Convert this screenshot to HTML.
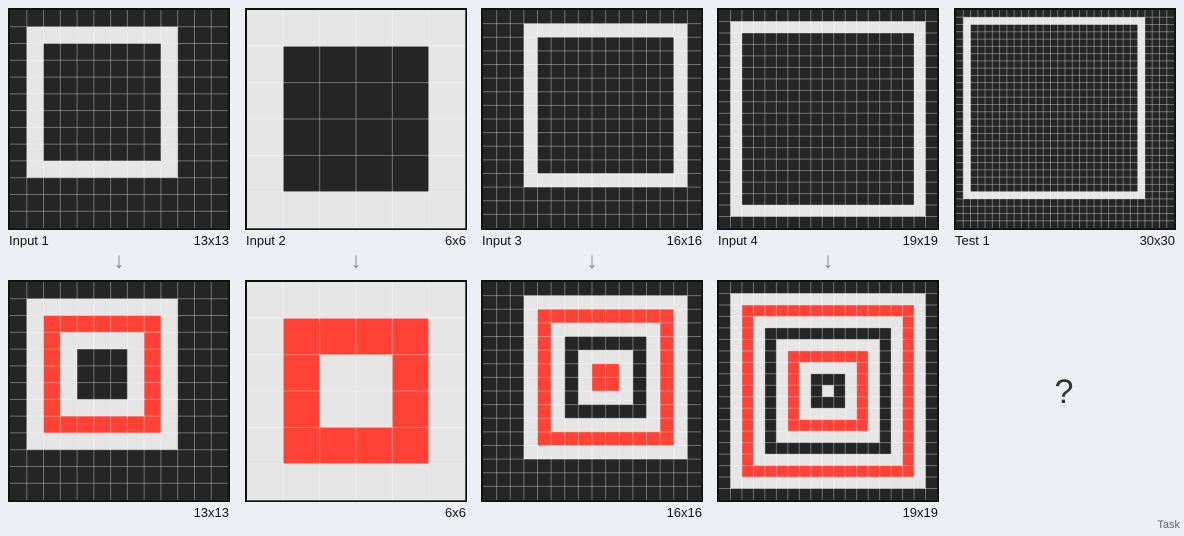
<!DOCTYPE html>
<html><head><meta charset="utf-8">
<style>
html,body{margin:0;padding:0;background:#eeeef5;width:1184px;height:536px;overflow:hidden;font-family:"Liberation Sans",sans-serif;}
svg{position:absolute;left:0;top:0}
</style></head><body>
<svg id="s" width="1184" height="536"></svg>
<script>
// grid specs: size, bg, square [r0,c0,r1,c1], ring color sequence by depth
const W='#e6e6e6', B='#252525', R='#ff4136';
const gridSizes=[13,6,16,19,30,13,6,16,19];
const gridBgs=[B,W,B,B,B,B,W,B,B];
const gridSquares=[[1,1,9,9],[1,1,4,4],[1,3,12,14],[1,1,17,17],[1,1,25,25],[1,1,9,9],[1,1,4,4],[1,3,12,14],[1,1,17,17]];
const ringSeqs=[[W,B],[B,B],[W,B],[W,B],[W,B],[W,R,W,B,B],[R,W],[W,R,W,B,W,R],[W,R,W,B,W,R,W,B,W]];
const panelX=[8,245,481,717,954,8,245,481,717];
const panelY=[8,8,8,8,8,280,280,280,280];
const leftLabels=['Input 1','Input 2','Input 3','Input 4','Test 1','','','',''];
const rightLabels=['13x13','6x6','16x16','19x19','30x30','13x13','6x6','16x16','19x19'];
const NS='http://www.w3.org/2000/svg';
const svg=document.getElementById('s');
function mk(t,a){const e=document.createElementNS(NS,t);for(const k in a)e.setAttribute(k,a[k]);return e;}
const PS=222, BW=2;
gridSizes.forEach((n,i)=>{
  const g=mk('g',{});
  
  
  svg.appendChild(g);
  const x0=panelX[i], y0=panelY[i];
  g.appendChild(mk('rect',{x:x0,y:y0,width:PS,height:PS,fill:'#111'}));
  const inner=PS-2*BW, cs=inner/n, ix=x0+BW, iy=y0+BW;
  const sq=gridSquares[i], seq=ringSeqs[i];
  for(let r=0;r<n;r++)for(let c=0;c<n;c++){
    let col=gridBgs[i];
    if(r>=sq[0]&&r<=sq[2]&&c>=sq[1]&&c<=sq[3]){
      const d=Math.min(r-sq[0],sq[2]-r,c-sq[1],sq[3]-c);
      if(i<5){col=d===0?seq[0]:seq[1];}
      else col=seq[Math.min(d,seq.length-1)];
    }
    g.appendChild(mk('rect',{x:ix+c*cs,y:iy+r*cs,width:cs+0.3,height:cs+0.3,fill:col}));
  }
  for(let k=1;k<n;k++){
    g.appendChild(mk('line',{x1:ix+k*cs,y1:iy,x2:ix+k*cs,y2:iy+inner,stroke:'rgba(255,255,255,0.35)','stroke-width':1}));
    g.appendChild(mk('line',{x1:ix,y1:iy+k*cs,x2:ix+inner,y2:iy+k*cs,stroke:'rgba(255,255,255,0.35)','stroke-width':1}));
  }
  if(leftLabels[i]){
    const t=mk('text',{x:x0+1,y:y0+PS+15,'font-size':13,fill:'#111'});t.textContent=leftLabels[i];
    svg.appendChild(t);
  }
  const t2=mk('text',{x:x0+PS-1,y:y0+PS+15,'font-size':13,fill:'#111','text-anchor':'end'});t2.textContent=rightLabels[i];
  svg.appendChild(t2);
  if(i<4){
    const a=mk('text',{x:x0+PS/2,y:268,'font-size':22,fill:'#888','text-anchor':'middle'});a.textContent='↓';
    svg.appendChild(a);
  }
});
const q=mk('text',{x:1064,y:403,'font-size':34,fill:'#333','text-anchor':'middle'});q.textContent='?';
svg.appendChild(q);
const tk=mk('text',{x:1180,y:528,'font-size':11,fill:'#666','text-anchor':'end'});tk.textContent='Task';
svg.appendChild(tk);
</script>
</body></html>
